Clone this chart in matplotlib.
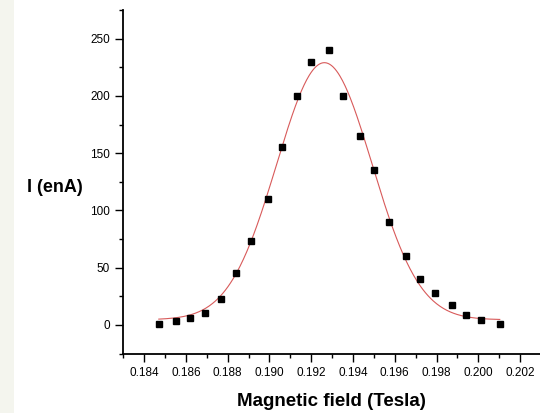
import numpy as np
import matplotlib
matplotlib.use("Agg")
import matplotlib.pyplot as plt
from matplotlib import font_manager
from matplotlib.ticker import MultipleLocator, FormatStrFormatter
from matplotlib.patches import Rectangle

# Measured beam current versus magnetic field
field_T = [0.1847, 0.18552, 0.18621, 0.18691, 0.18769, 0.18841, 0.18912, 0.18995,
           0.19062, 0.19130, 0.19201, 0.19283, 0.19351, 0.19433, 0.19503, 0.19572,
           0.19652, 0.19722, 0.19792, 0.19873, 0.19943, 0.20013, 0.20103]
current_enA = [1, 3, 6, 10, 23, 45, 73, 110, 155, 200, 230, 240, 200, 165, 135, 90,
               60, 40, 28, 17, 9, 4, 1]

# Gaussian fit parameters (baseline, amplitude, centre, sigma)
fit_y0 = 4.5
fit_amp = 224.5
fit_xc = 0.19263
fit_sigma = 0.00228

names = {f.name for f in font_manager.fontManager.ttflist}
tick_family = "Liberation Sans Narrow" if "Liberation Sans Narrow" in names else "Liberation Sans"
tick_size = 9.7 if tick_family == "Liberation Sans Narrow" else 8.5

fig = plt.figure(figsize=(5.4, 4.13), dpi=100)
fig.patch.set_facecolor("white")
fig.add_artist(Rectangle((0, 0), 14 / 540, 1, transform=fig.transFigure,
                         facecolor="#f4f5ee", edgecolor="none", zorder=0))

ax = fig.add_axes([123.3 / 540, 1 - 353.5 / 413, (540.9 - 123.3) / 540, (353.5 - 10) / 413])
ax.set_facecolor("white")

xf = np.linspace(min(field_T), max(field_T), 400)
yf = fit_y0 + fit_amp * np.exp(-(xf - fit_xc) ** 2 / (2 * fit_sigma ** 2))
ax.plot(xf, yf, color="#d85a5a", lw=0.8, zorder=2)
ax.plot(field_T, current_enA, ls="none", marker="s", ms=4.4, color="black", zorder=3)

ax.set_xlim(0.183, 0.203)
ax.set_ylim(-25, 275)

ax.xaxis.set_major_locator(MultipleLocator(0.002))
ax.xaxis.set_minor_locator(MultipleLocator(0.001))
ax.xaxis.set_major_formatter(FormatStrFormatter("%.3f"))
ax.yaxis.set_major_locator(MultipleLocator(50))
ax.yaxis.set_minor_locator(MultipleLocator(25))

for s in ("top", "right"):
    ax.spines[s].set_visible(False)
for s in ("left", "bottom"):
    ax.spines[s].set_linewidth(1.3)

ax.tick_params(which="major", direction="out", length=5.5, width=1.0, pad=4)
ax.tick_params(which="minor", direction="out", length=3, width=1.0)
for lab in ax.get_xticklabels() + ax.get_yticklabels():
    lab.set_fontfamily(tick_family)
    lab.set_fontsize(tick_size)

fig.text(331 / 540, 1 - 401 / 413, "Magnetic field (Tesla)", ha="center", va="center",
         fontsize=13.5, fontweight="bold", family="Liberation Sans")
fig.text(55 / 540, 1 - 187 / 413, "I (enA)", ha="center", va="center",
         fontsize=13, fontweight="bold", family="Liberation Sans")

fig.savefig("out.png", dpi=100)
